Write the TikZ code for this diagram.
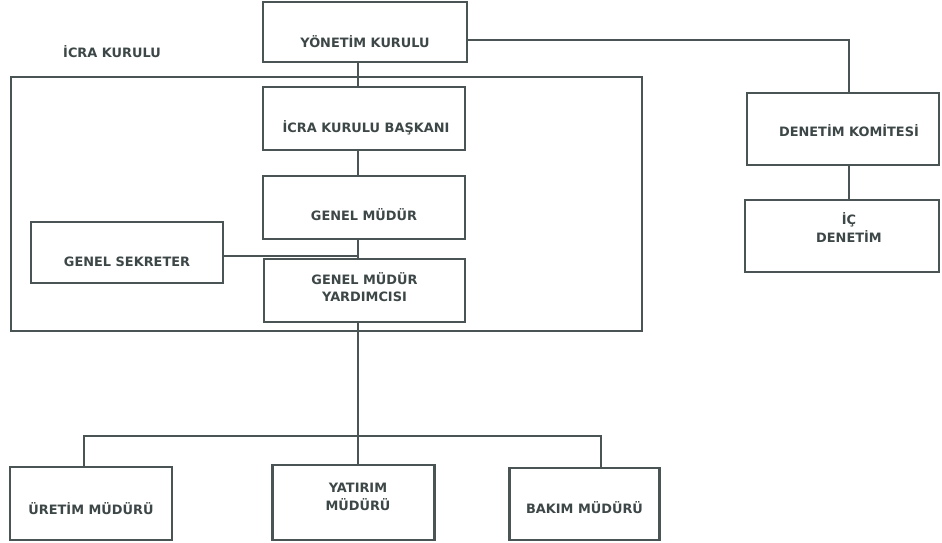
\documentclass[tikz,border=0pt]{standalone}
\usepackage{fontspec}
\setmainfont{DejaVu Sans}
\definecolor{ink}{HTML}{4A5454}
\definecolor{txt}{HTML}{3E4747}
\tikzset{
  box/.style={draw=ink, line width=2.6pt, fill=white, inner sep=0pt},
  lbl/.style={inner sep=0pt, text height=9.4pt, text depth=0pt, text=txt,
    font=\fontsize{12.9}{15}\selectfont\bfseries},
  conn/.style={draw=ink, line width=2.6pt},
  frame/.style={draw=ink, line width=2.6pt, inner sep=0pt},
}
\begin{document}
\begin{tikzpicture}[x=1pt,y=-1pt]
\useasboundingbox (0,0) rectangle (942,542);
\fill[white] (0,0) rectangle (942,542);
% frame
\node[frame, minimum width=631pt, minimum height=254pt] (icra) at (326.5,204) {};
\node[lbl] (icralabel) at (112,52.5) {İCRA KURULU};
% boxes
\node[box, minimum width=204pt, minimum height=60pt] (yk) at (365,32) {};
\node[box, minimum width=202pt, minimum height=63pt] (ikb) at (364,118.5) {};
\node[box, minimum width=202pt, minimum height=63pt] (gm) at (364,207.5) {};
\node[box, minimum width=192pt, minimum height=61pt] (gs) at (127,252.5) {};
\node[box, minimum width=201pt, minimum height=63pt] (gmy) at (364.5,290.5) {};
\node[box, minimum width=192pt, minimum height=72pt] (dk) at (843,129) {};
\node[box, minimum width=194pt, minimum height=72pt] (id) at (842,236) {};
\node[box, minimum width=162pt, minimum height=73pt] (ur) at (91,503.5) {};
\node[box, minimum width=162pt, minimum height=75pt] (ya) at (353.5,502.5) {};
\node[box, minimum width=150pt, minimum height=72pt] (ba) at (584.5,504) {};
% texts
\node[lbl] (tyk) at (365,42.5) {YÖNETİM KURULU};
\node[lbl] (tikb) at (366,128) {İCRA KURULU BAŞKANI};
\node[lbl] (tgm) at (364,216) {GENEL MÜDÜR};
\node[lbl] (tgs) at (127,262) {GENEL SEKRETER};
\node[lbl] (tgmy1) at (364.5,280) {GENEL MÜDÜR};
\node[lbl] (tgmy2) at (364.5,297) {YARDIMCISI};
\node[lbl] (tdk) at (849,131.5) {DENETİM KOMİTESİ};
\node[lbl] (tid1) at (849,220) {İÇ};
\node[lbl] (tid2) at (849,238) {DENETİM};
\node[lbl] (tur) at (91,509.5) {ÜRETİM MÜDÜRÜ};
\node[lbl] (tya1) at (358,487.5) {YATIRIM};
\node[lbl] (tya2) at (358,506) {MÜDÜRÜ};
\node[lbl] (tba) at (584.5,509) {BAKIM MÜDÜRÜ};
% connectors
\coordinate (spine) at (358,0);
\coordinate (dkx) at (849,0);
\coordinate (bus) at (358,436);
\coordinate (bl) at (84,436);
\coordinate (br) at (601,436);
\draw[conn] (yk.south -| spine) -- (ikb.north -| spine);
\draw[conn] (ikb.south -| spine) -- (gm.north -| spine);
\draw[conn] (gm.south -| spine) -- (gmy.north -| spine);
\draw[conn] ([yshift=-3.5pt]gs.east) -- ([yshift=-3.5pt]gs.east -| spine);
\draw[conn] ([yshift=-8pt]yk.east) -| (dk.north -| dkx);
\draw[conn] (dk.south -| dkx) -- (id.north -| dkx);
\draw[conn] (gmy.south -| spine) -- (bus);
\draw[conn] (ur.north -| bl) -- (bl) -- (br) -- (ba.north -| br);
\draw[conn] (bus) -- (ya.north -| bus);
\end{tikzpicture}
\end{document}
